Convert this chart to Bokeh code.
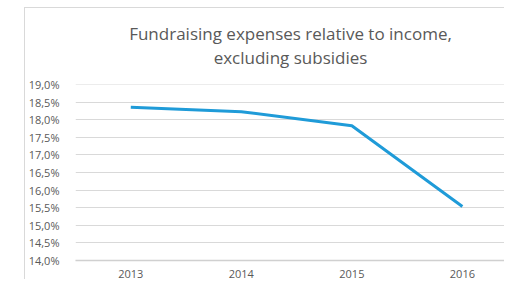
from bokeh.plotting import figure
from bokeh.models import Range1d, FixedTicker, Title
from bokeh.embed import file_html
from bokeh.resources import INLINE

years = [2013, 2014, 2015, 2016]
year_labels = ["2013", "2014", "2015", "2016"]
ratio = [18.36, 18.23, 17.83, 15.53]
y_ticks = [14.0, 14.5, 15.0, 15.5, 16.0, 16.5, 17.0, 17.5, 18.0, 18.5, 19.0]
y_tick_labels = ["14,0%", "14,5%", "15,0%", "15,5%", "16,0%", "16,5%",
                 "17,0%", "17,5%", "18,0%", "18,5%", "19,0%"]

FONT = "Open Sans"
TXT = "#595959"
GRID = "#d9d9d9"

p = figure(width=480, height=272, output_backend="svg", toolbar_location=None,
           x_range=Range1d(2012.5, 2016.39), y_range=Range1d(13.995, 19.005),
           min_border_left=50, min_border_right=0, min_border_top=76, min_border_bottom=18,
           margin=(7, 0, 0, 24))
p.styles = {"border-left": "1px solid #d9d9d9", "border-top": "1px solid #d9d9d9"}
p.outline_line_color = None
p.background_fill_color = "white"

p.title = Title(text="Fundraising expenses relative to income,\nexcluding subsidies",
                align="center", text_font=FONT, text_font_size="17px",
                text_font_style="normal", text_color=TXT, text_line_height=1.04,
                standoff=27, vertical_align="top")
try:
    p.title.text_align = "center"
except Exception:
    pass

p.line(years, ratio, line_color="#1f9bd8", line_width=3)

p.xaxis.ticker = FixedTicker(ticks=years)
p.xaxis.major_label_overrides = {y: l for y, l in zip(years, year_labels)}
p.yaxis.ticker = FixedTicker(ticks=y_ticks)
p.yaxis.major_label_overrides = {t: l for t, l in zip(y_ticks, y_tick_labels)}

for ax in (p.xaxis[0], p.yaxis[0]):
    ax.major_tick_line_color = None
    ax.minor_tick_line_color = None
    ax.major_label_text_font = FONT
    ax.major_label_text_font_size = "11px"
    ax.major_label_text_color = TXT
p.yaxis.axis_line_color = None
p.yaxis.major_label_standoff = 10
p.xaxis.axis_line_color = "#d0d0d0"
p.xaxis.axis_line_width = 1.5
p.xaxis.major_label_standoff = 3

p.xgrid.grid_line_color = None
p.ygrid.grid_line_color = GRID
p.ygrid.grid_line_width = 1

open("out.html", "w").write(file_html(p, INLINE))
